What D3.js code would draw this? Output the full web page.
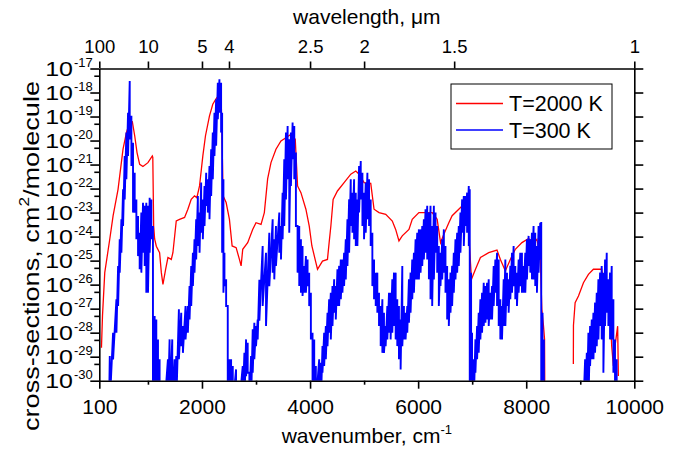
<!DOCTYPE html>
<html><head><meta charset="utf-8">
<script src="https://cdn.jsdelivr.net/npm/d3@7"></script>
<style>
body{margin:0;background:#fff;}
text{font-family:"Liberation Sans",Arial,sans-serif;fill:#000;}
</style></head>
<body><svg id="c" width="690" height="449"></svg>
<script>
// ---- data (wavenumber in cm^-1, values as log10 of cross-section) ----
const bottomTicks = [100, 2000, 4000, 6000, 8000, 10000];
const bottomMinor = [1000, 3000, 5000, 7000, 9000];
const topWavelengths = [100, 10, 5, 4, 2.5, 2, 1.5, 1];
const yExponents = [-17,-18,-19,-20,-21,-22,-23,-24,-25,-26,-27,-28,-29,-30];

// T=2000 K (null = gap)
const redWn = [140,159,201,294,355,447,539,602,650,712,755,798,847,908,1000,1081,1090,1106,1124,1155,1216,1248,1278,1327,1370,1432,1462,1524,1585,1678,1739,1801,1862,1905,1955,2016,2065,2139,2200,2263,2292,2355,2380,2390,2447,2508,2558,2632,2693,2724,2754,2846,2938,3000,3093,3154,3215,3277,3369,3462,3554,3646,3726,3769,3831,3923,3985,4034,4108,4138,4230,4322,4353,4385,4427,4507,4630,4754,4846,4908,5000,5123,5184,5276,5400,5522,5584,5645,5706,5830,5891,6014,6260,6352,6415,6476,6568,6629,6752,6845,6906,6940,6950,6987,7061,7153,7306,7459,7522,7614,7706,7798,7921,8044,8136,8197,8259,8289,8320,8339,8345,8600,8872,8874,8905,8967,9059,9151,9243,9397,9428,9489,9534,9582,9613,9643,9692,9705];
const redLog = [-28.63,-27.3,-25.5,-24.1,-23.14,-22.03,-20.36,-19.67,-19.32,-19.22,-19.8,-20.5,-20.99,-21.08,-20.92,-20.64,-20.7,-23.56,-24.1,-24.4,-24.67,-25.5,-25.99,-25.36,-24.87,-24.95,-24.67,-23.35,-23.28,-23.2,-22.86,-22.45,-22.3,-22.38,-21.89,-20.64,-19.8,-18.97,-18.49,-18.25,-18.17,-18.2,-21.0,-22.3,-22.58,-23.28,-24.39,-24.46,-24.95,-25.22,-24.53,-24.25,-23.7,-23.42,-23.49,-23.0,-21.6,-20.92,-20.36,-20.02,-19.88,-19.74,-19.95,-21.89,-22.17,-22.86,-23.56,-24.39,-25.08,-25.36,-25.02,-24.95,-24.25,-23.56,-22.45,-22.1,-21.75,-21.4,-21.27,-21.4,-21.75,-21.78,-22.86,-23.0,-23.07,-23.35,-23.7,-24.18,-23.97,-23.7,-23.28,-23.0,-23.0,-23.28,-24.25,-23.9,-23.42,-23.13,-22.86,-22.65,-22.58,-22.6,-24.39,-25.78,-25.36,-24.87,-24.67,-24.56,-24.95,-25.43,-24.95,-24.53,-24.25,-24.08,-24.25,-24.11,-24.81,-27.03,-27.73,-28.28,-31,null,-29.3,-27.7,-26.75,-26.47,-25.92,-25.57,-25.36,-25.36,-25.78,-26.06,-26.33,-28.56,-29.39,-28.56,-27.73,-29.8];

// T=300 K: upper and lower edge of the dense line band at each wavenumber (-31 = below axis)
const blueWn = [281,294,355,417,448,478,509,540,570,601,632,663,694,724,755,786,817,847,878,909,940,970,1001,1032,1063,1093,1124,1155,1186,1216,1247,1309,1370,1401,1450,1493,1524,1573,1616,1647,1696,1739,1770,1801,1832,1862,1893,1924,1955,1985,2016,2047,2078,2108,2139,2170,2200,2231,2262,2293,2323,2354,2373,2397,2416,2447,2477,2508,2539,2570,2631,2692,2754,2785,2816,2846,2877,2908,2939,2969,3000,3031,3062,3123,3185,3246,3308,3338,3369,3431,3462,3492,3523,3554,3585,3615,3646,3677,3708,3738,3769,3800,3831,3861,3892,3923,3954,3984,4015,4046,4077,4107,4169,4200,4230,4261,4292,4323,4353,4384,4415,4446,4476,4507,4538,4569,4599,4630,4661,4692,4723,4753,4784,4815,4846,4876,4907,4938,4969,4999,5030,5061,5092,5122,5153,5184,5215,5245,5276,5307,5338,5368,5399,5430,5461,5491,5522,5553,5584,5614,5645,5676,5707,5737,5768,5799,5830,5860,5891,5922,5953,5983,6014,6045,6076,6106,6137,6168,6199,6229,6260,6291,6322,6353,6383,6414,6445,6476,6506,6537,6568,6599,6629,6660,6691,6722,6752,6783,6814,6845,6875,6906,6937,6955,6980,6998,7029,7060,7091,7121,7152,7183,7214,7245,7275,7306,7337,7368,7398,7429,7460,7491,7521,7552,7583,7614,7644,7675,7706,7737,7767,7798,7829,7860,7890,7921,7952,7983,8013,8044,8075,8106,8136,8167,8198,8229,8259,8278,8302,8327,8352,9060,9090,9121,9151,9182,9213,9244,9274,9305,9336,9367,9397,9428,9459,9490,9520,9551,9582,9613,9643,9674,9705];
const blueHi = [-31,-28.97,-28.0,-26.61,-25.22,-24.11,-23.28,-22.03,-20.64,-19.67,-18.84,-17.52,-18.97,-20.09,-21.34,-22.45,-23.14,-23.84,-23.0,-22.59,-22.72,-22.59,-22.72,-22.38,-22.45,-23.56,-27.31,-27.45,-28.28,-29.11,-31,-31,-29.11,-28.28,-28.28,-29.11,-28.97,-27.03,-27.17,-27.72,-26.89,-26.89,-26.06,-25.22,-24.67,-24.11,-23.28,-22.31,-23.0,-21.75,-22.45,-21.89,-21.34,-21.61,-21.06,-20.36,-19.67,-18.84,-18.28,-17.59,-17.45,-17.59,-18.84,-21.61,-24.67,-25.78,-26.89,-29.11,-29.11,-29.39,-29.53,-31,-29.39,-28.84,-28.28,-28.42,-29.67,-28.97,-27.86,-27.59,-27.72,-27.45,-25.8,-24.39,-24.67,-23.84,-23.28,-24.11,-23.56,-23.0,-23.56,-22.17,-20.78,-19.67,-19.39,-19.95,-19.67,-19.25,-19.39,-20.5,-23.56,-23.56,-24.11,-24.39,-25.22,-24.81,-24.95,-25.5,-26.34,-28.0,-28.28,-29.39,-29.11,-29.25,-28.56,-28.0,-27.72,-27.17,-26.61,-26.34,-26.06,-25.78,-26.06,-25.36,-25.22,-24.95,-24.95,-24.67,-24.11,-23.28,-22.45,-21.61,-22.17,-21.61,-22.17,-22.45,-21.06,-20.85,-21.34,-22.17,-21.75,-21.34,-21.61,-22.45,-23.84,-24.95,-25.5,-25.5,-26.34,-26.89,-26.61,-27.17,-27.72,-26.89,-26.34,-26.34,-25.78,-25.5,-25.5,-26.61,-26.89,-27.45,-25.22,-26.89,-27.17,-26.89,-25.78,-25.5,-24.95,-24.67,-24.11,-23.84,-23.7,-23.7,-23.56,-23.28,-22.86,-22.72,-23.0,-22.72,-23.56,-22.72,-23.0,-23.56,-24.39,-24.67,-24.11,-23.7,-24.39,-25.22,-25.78,-25.5,-25.22,-24.67,-24.11,-23.84,-23.56,-23.0,-22.45,-22.31,-22.31,-22.17,-21.89,-22.03,-25.5,-28.0,-29.11,-28.28,-27.72,-27.17,-26.61,-26.34,-25.92,-26.06,-25.92,-25.78,-26.34,-26.06,-25.22,-24.95,-24.67,-24.95,-26.61,-26.89,-25.78,-24.95,-25.5,-25.78,-25.22,-24.67,-24.39,-25.22,-25.5,-24.95,-24.67,-24.67,-25.22,-24.67,-24.11,-23.97,-24.11,-23.84,-23.56,-23.84,-24.39,-23.56,-23.42,-23.39,-27.17,-28.28,-31,-31,-29.11,-28.84,-28.0,-27.72,-27.45,-27.17,-26.75,-26.34,-25.78,-25.5,-25.22,-25.5,-24.95,-24.67,-25.78,-25.5,-25.22,-26.61,-28.28,-29.11,-31];
const blueLo = [-31,-31,-29.11,-28.0,-26.89,-25.5,-24.67,-23.56,-22.45,-21.61,-20.64,-19.95,-21.06,-23.0,-23.0,-24.11,-24.81,-25.36,-25.5,-24.67,-25.22,-26.34,-26.34,-24.67,-24.11,-31,-31,-31,-31,-31,-31,-31,-31,-31,-31,-31,-31,-29.11,-28.56,-28.84,-28.28,-28.0,-27.45,-26.89,-26.06,-25.5,-24.95,-24.39,-24.67,-23.84,-24.11,-23.56,-22.72,-23.0,-23.28,-22.31,-21.61,-20.64,-20.22,-19.11,-18.84,-19.67,-24.67,-26.34,-26.06,-26.89,-31,-31,-31,-31,-31,-31,-31,-31,-29.81,-29.67,-31,-31,-29.67,-29.11,-28.56,-28.28,-27.5,-26.89,-27.72,-26.06,-25.5,-25.78,-25.22,-24.67,-24.95,-24.11,-23.56,-22.45,-21.61,-23.84,-21.89,-20.78,-21.61,-23.56,-25.5,-26.06,-26.34,-26.47,-26.34,-26.34,-26.06,-26.89,-28.28,-31,-31,-31,-31,-31,-29.67,-29.39,-29.11,-28.56,-28.0,-28.28,-27.72,-27.17,-27.45,-26.89,-26.89,-26.61,-26.34,-26.06,-25.78,-25.22,-24.67,-23.56,-23.84,-24.11,-24.39,-24.39,-23.0,-22.45,-23.56,-24.11,-23.84,-23.28,-23.56,-24.39,-26.06,-26.61,-26.89,-27.17,-27.72,-28.56,-28.84,-28.84,-28.56,-28.28,-28.0,-28.28,-28.0,-27.72,-28.28,-28.56,-29.11,-29.53,-28.56,-28.28,-28.28,-28.0,-27.59,-27.17,-26.61,-26.34,-25.78,-25.78,-25.78,-25.5,-25.22,-24.95,-24.67,-24.95,-25.78,-26.61,-26.89,-25.78,-24.67,-25.5,-26.89,-26.06,-25.78,-25.5,-26.34,-27.45,-27.72,-27.17,-26.89,-26.34,-25.78,-25.5,-25.22,-24.67,-23.84,-24.39,-23.56,-23.84,-24.39,-31,-31,-31,-31,-29.67,-29.11,-28.84,-28.28,-28.0,-27.72,-27.59,-27.45,-27.72,-27.45,-27.45,-26.89,-26.34,-26.89,-27.72,-28.28,-28.28,-27.72,-27.72,-26.89,-27.17,-26.61,-26.34,-26.06,-26.61,-26.89,-26.34,-26.06,-26.34,-26.34,-26.34,-25.78,-25.22,-25.5,-25.78,-25.78,-26.06,-26.34,-25.5,-24.95,-31,-31,-31,-31,-31,-31,-31,-31,-29.39,-29.11,-29.11,-28.84,-28.56,-28.28,-27.72,-28.28,-29.67,-27.72,-27.17,-27.72,-28.28,-28.28,-29.67,-31,-31,-31];

const legendLabels = ["T=2000 K", "T=300 K"];
const seriesColors = ["#ff0000", "#0000ff"];

// ---- layout ----
const svg = d3.select("#c");
const L = 99.3, R = 634.3, T = 68.5, B = 380.7;
const x = d3.scaleLinear().domain([100, 10000]).range([L, R]);
const y = d3.scaleLog().domain([1e-30, 1e-17]).range([B, T]);
const pv = e => Math.pow(10, e);

svg.append("defs").append("clipPath").attr("id","clip")
  .append("rect").attr("x",L).attr("y",T).attr("width",R-L).attr("height",B-T);

// red line
const redPts = redWn.map((w,i)=>[w, redLog[i]]);
const lineRed = d3.line().defined(d=>d[1]!==null).x(d=>x(d[0])).y(d=>y(pv(d[1])));
svg.append("path").datum(redPts).attr("clip-path","url(#clip)")
  .attr("d", lineRed).attr("fill","none").attr("stroke",seriesColors[0]).attr("stroke-width",1.3);

// blue: zig-zag between band edges
const bluePts = [];
blueWn.forEach((w,i)=>{ bluePts.push([w, blueHi[i]]); bluePts.push([w, blueLo[i]]); });
const lineBlue = d3.line().x(d=>x(d[0])).y(d=>y(pv(d[1])));
svg.append("path").datum(bluePts).attr("clip-path","url(#clip)")
  .attr("d", lineBlue).attr("fill","none").attr("stroke",seriesColors[1]).attr("stroke-width",1.9);

// ---- axes ----
const axW = 1.6;
function styleAxis(g){ g.selectAll("path,line").attr("stroke","#000").attr("stroke-width",axW); }

// bottom
svg.append("g").attr("transform",`translate(0,${B})`)
  .call(d3.axisBottom(x).tickValues(bottomTicks).tickSize(8).tickSizeOuter(0).tickFormat(d3.format("d")))
  .call(styleAxis)
  .call(g=>g.selectAll("text").attr("font-size",21).attr("dy","1.05em").attr("font-family","Liberation Sans, Arial"));
svg.append("g").attr("transform",`translate(0,${B})`)
  .call(d3.axisBottom(x).tickValues(bottomMinor).tickSize(4).tickSizeOuter(0).tickFormat(""))
  .call(styleAxis).call(g=>g.select(".domain").remove());

// top
const topPos = topWavelengths.map(l=>10000/l);
svg.append("g").attr("transform",`translate(0,${T})`)
  .call(d3.axisTop(x).tickValues(topPos).tickSize(7).tickSizeOuter(0)
    .tickFormat((d,i)=>String(topWavelengths[i])))
  .call(styleAxis)
  .call(g=>g.selectAll("text").attr("font-size",18.5).attr("dy","-0.3em").attr("font-family","Liberation Sans, Arial"));

// left
const yMajor = yExponents.map(pv);
const yMinor = yExponents.slice(1).map(e=>5*pv(e));
svg.append("g").attr("transform",`translate(${L},0)`)
  .call(d3.axisLeft(y).tickValues(yMajor).tickSize(9).tickSizeOuter(0).tickFormat(""))
  .call(styleAxis);
svg.append("g").attr("transform",`translate(${L},0)`)
  .call(d3.axisLeft(y).tickValues(yMinor).tickSize(5).tickSizeOuter(0).tickFormat(""))
  .call(styleAxis).call(g=>g.select(".domain").remove());
const yl = svg.append("g");
yExponents.forEach(e=>{
  const yy = y(pv(e));
  yl.append("text").attr("transform",`translate(73,${yy+7.5}) scale(1.25,1)`)
    .attr("text-anchor","end").attr("font-size",20).text("10");
  yl.append("text").attr("x",74).attr("y",yy-2).attr("font-size",13).text(String(e));
});

// right
svg.append("g").attr("transform",`translate(${R},0)`)
  .call(d3.axisRight(y).tickValues(yMajor).tickSize(9).tickSizeOuter(0).tickFormat(""))
  .call(styleAxis);

// titles
svg.append("text").attr("x",(L+R)/2).attr("y",24).attr("text-anchor","middle").attr("font-size",21)
  .text("wavelength, μm");
const bt = svg.append("text").attr("x",(L+R)/2).attr("y",443).attr("text-anchor","middle").attr("font-size",21);
bt.append("tspan").text("wavenumber, cm");
bt.append("tspan").attr("dy",-9).attr("font-size",13).text("-1");
const lt = svg.append("text").attr("transform","translate(39,256) rotate(-90)").attr("text-anchor","middle")
  .attr("font-size",22).attr("textLength",350).attr("lengthAdjust","spacingAndGlyphs");
lt.append("tspan").text("cross-sections, cm");
lt.append("tspan").attr("dy",-10).attr("font-size",14).text("2");
lt.append("tspan").attr("dy",10).text("/molecule");

// legend
const lg = svg.append("g");
lg.append("rect").attr("x",451).attr("y",84).attr("width",161).attr("height",65)
  .attr("fill","#fff").attr("stroke","#000").attr("stroke-width",1);
legendLabels.forEach((lab,i)=>{
  const yy = 103.5 + i*26.5;
  lg.append("line").attr("x1",456).attr("x2",503).attr("y1",yy).attr("y2",yy)
    .attr("stroke",seriesColors[i]).attr("stroke-width",1.5);
  lg.append("text").attr("x",509).attr("y",yy+7.5).attr("font-size",21.5).text(lab);
});
</script></body></html>
